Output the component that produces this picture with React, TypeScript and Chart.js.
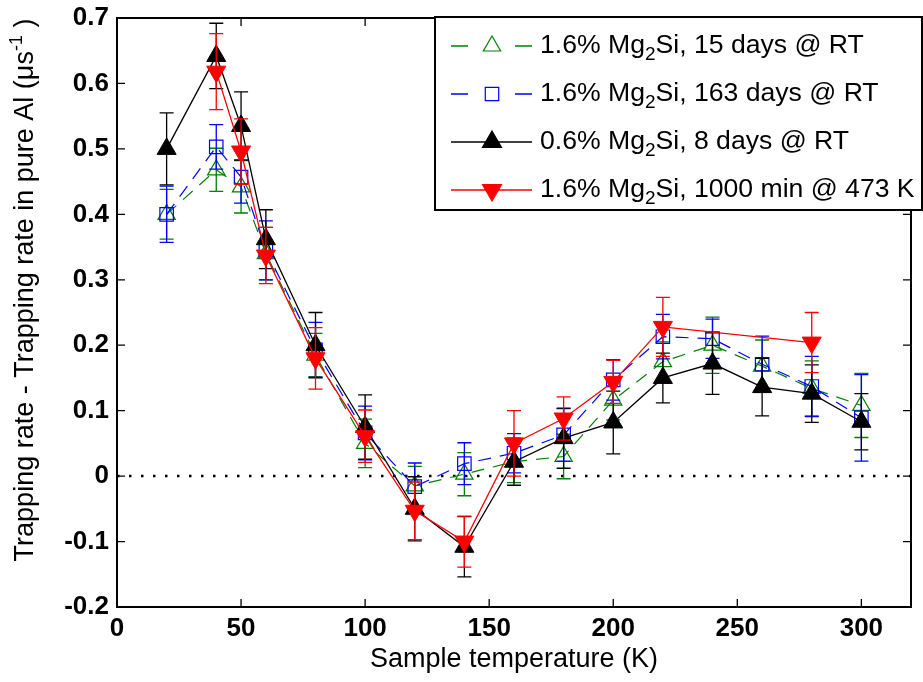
import React, { useEffect, useRef } from 'react';
import { Chart, registerables } from 'chart.js';

Chart.register(...registerables);

// ---------- data ----------
const temps = [20, 40, 50, 60, 80, 100, 120, 140, 160, 180, 200, 220, 240, 260, 280, 300];

const green15Days = [0.400, 0.468, 0.442, 0.340, 0.185, 0.050, -0.015, 0.003, 0.022, 0.030, 0.116, 0.175, 0.200, 0.168, 0.134, 0.108];
const green15Err = [0.038, 0.033, 0.040, 0.040, 0.033, 0.037, 0.030, 0.033, 0.032, 0.034, 0.030, 0.030, 0.043, 0.040, 0.042, 0.049];

const blue163Days = [0.400, 0.503, 0.457, 0.345, 0.193, 0.066, -0.016, 0.019, 0.035, 0.063, 0.147, 0.213, 0.210, 0.171, 0.137, 0.089];
const blue163Err = [0.043, 0.034, 0.040, 0.045, 0.042, 0.041, 0.036, 0.032, 0.030, 0.040, 0.031, 0.034, 0.030, 0.043, 0.046, 0.066];

const black8Days = [0.500, 0.642, 0.535, 0.362, 0.200, 0.075, -0.050, -0.108, 0.022, 0.058, 0.082, 0.150, 0.172, 0.136, 0.126, 0.083];
const black8Err = [0.055, 0.050, 0.052, 0.045, 0.050, 0.049, 0.049, 0.046, 0.036, 0.046, 0.048, 0.038, 0.047, 0.044, 0.044, 0.043];

const tempsRed = [40, 50, 60, 80, 100, 120, 140, 160, 180, 200, 220, 280];
const red1000Min = [0.618, 0.496, 0.337, 0.180, 0.061, -0.053, -0.100, 0.050, 0.088, 0.144, 0.228, 0.204];
const red1000Err = [0.058, 0.050, 0.043, 0.047, 0.040, 0.044, 0.039, 0.050, 0.033, 0.033, 0.045, 0.046];

const seriesNames = [
  '1.6% Mg₂Si, 15 days @ RT',
  '1.6% Mg₂Si, 163 days @ RT',
  '0.6% Mg₂Si, 8 days @ RT',
  '1.6% Mg₂Si, 1000 min @ 473 K',
];

const xTicks = [0, 50, 100, 150, 200, 250, 300];
const yTicks = [-0.2, -0.1, 0, 0.1, 0.2, 0.3, 0.4, 0.5, 0.6, 0.7];

const xTitle = 'Sample temperature (K)';
const yTitleMain = 'Trapping rate - Trapping rate in pure Al (μs';
const yTitleSup = '-1';
const yTitleEnd = ' )';

// ---------- styles ----------
const FONT = '"Liberation Sans", Arial, Helvetica, sans-serif';
const GREEN = '#008000';
const BLUE = '#0000ff';
const BLACK = '#000000';
const RED = '#ff0000';

function toPoints(xs: number[], ys: number[]) {
  return xs.map((x, i) => ({ x, y: ys[i] }));
}

function drawMarker(ctx: CanvasRenderingContext2D, style: string, x: number, y: number, r: number, color: string, filled: boolean) {
  ctx.save();
  ctx.setLineDash([]);
  ctx.lineWidth = 1.2;
  ctx.strokeStyle = color;
  ctx.fillStyle = color;
  ctx.beginPath();
  if (style === 'rect') {
    const s = r * Math.SQRT1_2;
    ctx.rect(x - s, y - s, 2 * s, 2 * s);
  } else {
    const rot = style === 'down' ? Math.PI : 0;
    let a = rot;
    ctx.moveTo(x + Math.sin(a) * r, y - Math.cos(a) * r);
    a += (2 * Math.PI) / 3;
    ctx.lineTo(x + Math.sin(a) * r, y - Math.cos(a) * r);
    a += (2 * Math.PI) / 3;
    ctx.lineTo(x + Math.sin(a) * r, y - Math.cos(a) * r);
    ctx.closePath();
  }
  if (filled) ctx.fill();
  ctx.stroke();
  ctx.restore();
}

const errorBarPlugin = {
  id: 'errorBars',
  afterDatasetDraw(chart: any, args: any) {
    const ds = chart.data.datasets[args.index];
    const errs: number[] = ds.errors;
    if (!errs) return;
    const ctx: CanvasRenderingContext2D = chart.ctx;
    const ys = chart.scales.y;
    ctx.save();
    ctx.setLineDash([]);
    ctx.strokeStyle = ds.borderColor;
    ctx.lineWidth = 1.3;
    args.meta.data.forEach((pt: any, i: number) => {
      const v = ds.data[i].y;
      const e = errs[i];
      const top = ys.getPixelForValue(v + e);
      const bot = ys.getPixelForValue(v - e);
      const x = pt.x;
      const hw = 7;
      ctx.beginPath();
      ctx.moveTo(x, top);
      ctx.lineTo(x, bot);
      ctx.moveTo(x - hw, top);
      ctx.lineTo(x + hw, top);
      ctx.moveTo(x - hw, bot);
      ctx.lineTo(x + hw, bot);
      ctx.stroke();
    });
    ctx.restore();
  },
};

const zeroLinePlugin = {
  id: 'zeroLine',
  beforeDatasetsDraw(chart: any) {
    const ctx: CanvasRenderingContext2D = chart.ctx;
    const { left, right } = chart.chartArea;
    const y = chart.scales.y.getPixelForValue(0);
    ctx.save();
    ctx.strokeStyle = '#000';
    ctx.lineWidth = 2.5;
    ctx.setLineDash([2.5, 9.5]);
    ctx.beginPath();
    ctx.moveTo(left, y);
    ctx.lineTo(right, y);
    ctx.stroke();
    ctx.restore();
  },
};

const framePlugin = {
  id: 'frame',
  afterDraw(chart: any) {
    const ctx: CanvasRenderingContext2D = chart.ctx;
    const { left, right, top, bottom } = chart.chartArea;
    const xs = chart.scales.x;
    const ys = chart.scales.y;
    ctx.save();
    ctx.setLineDash([]);
    ctx.strokeStyle = '#000';
    // inward ticks
    ctx.lineWidth = 1.3;
    const tl = 8;
    ctx.beginPath();
    xTicks.forEach((t) => {
      const px = xs.getPixelForValue(t);
      ctx.moveTo(px, bottom);
      ctx.lineTo(px, bottom - tl);
      ctx.moveTo(px, top);
      ctx.lineTo(px, top + tl);
    });
    yTicks.forEach((t) => {
      const py = ys.getPixelForValue(t);
      ctx.moveTo(left, py);
      ctx.lineTo(left + tl, py);
      ctx.moveTo(right, py);
      ctx.lineTo(right - tl, py);
    });
    ctx.stroke();
    // frame
    ctx.lineWidth = 2;
    ctx.strokeRect(left, top, right - left, bottom - top);

    // y-axis title with superscript
    ctx.fillStyle = '#000';
    ctx.translate(26, 290);
    ctx.rotate(-Math.PI / 2);
    ctx.textBaseline = 'middle';
    ctx.textAlign = 'left';
    const mainFont = `27px ${FONT}`;
    const supFont = `18px ${FONT}`;
    ctx.font = mainFont;
    const w1 = ctx.measureText(yTitleMain).width;
    const w3 = ctx.measureText(yTitleEnd).width;
    ctx.font = supFont;
    const w2 = ctx.measureText(yTitleSup).width;
    let x0 = -(w1 + w2 + w3) / 2;
    ctx.font = mainFont;
    ctx.fillText(yTitleMain, x0, 0);
    x0 += w1;
    ctx.font = supFont;
    ctx.fillText(yTitleSup, x0, -9);
    x0 += w2;
    ctx.font = mainFont;
    ctx.fillText(yTitleEnd, x0, 0);
    ctx.restore();

    // legend
    ctx.save();
    const lx0 = 435, ly0 = 17, lx1 = 922, ly1 = 210;
    ctx.fillStyle = '#fff';
    ctx.fillRect(lx0, ly0, lx1 - lx0, ly1 - ly0);
    ctx.strokeStyle = '#000';
    ctx.lineWidth = 2;
    ctx.strokeRect(lx0, ly0, lx1 - lx0, ly1 - ly0);
    const rowsY = [46, 94, 142, 190];
    chart.data.datasets.forEach((ds: any, i: number) => {
      const y = rowsY[i];
      ctx.strokeStyle = ds.borderColor;
      ctx.lineWidth = 1.3;
      ctx.setLineDash([]);
      ctx.beginPath();
      if (ds.borderDash && ds.borderDash.length) {
        ctx.moveTo(451, y); ctx.lineTo(468, y);
        ctx.moveTo(515, y); ctx.lineTo(532, y);
      } else {
        ctx.moveTo(451, y); ctx.lineTo(532, y);
      }
      ctx.stroke();
      drawMarker(ctx, ds.legendMarker, 492, y, ds.pointRadius, ds.borderColor, ds.legendFilled);
      // text with subscript
      const name: string = ds.label;
      const parts = name.split('₂');
      ctx.fillStyle = '#000';
      ctx.textBaseline = 'middle';
      ctx.textAlign = 'left';
      let tx = 540;
      ctx.font = `26.6px ${FONT}`;
      ctx.fillText(parts[0], tx, y);
      tx += ctx.measureText(parts[0]).width;
      ctx.font = `19px ${FONT}`;
      ctx.fillText('2', tx, y + 9);
      tx += ctx.measureText('2').width;
      ctx.font = `26.6px ${FONT}`;
      ctx.fillText(parts[1], tx, y);
    });
    ctx.restore();
  },
};

export default function App() {
  const canvasRef = useRef<HTMLCanvasElement | null>(null);

  useEffect(() => {
    if (!canvasRef.current) return;
    Chart.defaults.font.family = FONT;
    Chart.defaults.color = '#000';
    const chart = new Chart(canvasRef.current, {
      type: 'line',
      data: {
        datasets: [
          {
            label: seriesNames[0],
            data: toPoints(temps, green15Days),
            errors: green15Err,
            borderColor: GREEN,
            backgroundColor: 'rgba(0,0,0,0)',
            borderWidth: 1.2,
            borderDash: [13, 9],
            pointStyle: 'triangle',
            pointRadius: 10,
            pointBorderWidth: 1.2,
            pointBackgroundColor: 'rgba(0,0,0,0)',
            pointBorderColor: GREEN,
            legendMarker: 'up',
            legendFilled: false,
            order: 4,
          } as any,
          {
            label: seriesNames[1],
            data: toPoints(temps, blue163Days),
            errors: blue163Err,
            borderColor: BLUE,
            backgroundColor: 'rgba(0,0,0,0)',
            borderWidth: 1.2,
            borderDash: [13, 9],
            pointStyle: 'rect',
            pointRadius: 9.5,
            pointBorderWidth: 1.2,
            pointBackgroundColor: 'rgba(0,0,0,0)',
            pointBorderColor: BLUE,
            legendMarker: 'rect',
            legendFilled: false,
            order: 3,
          } as any,
          {
            label: seriesNames[2],
            data: toPoints(temps, black8Days),
            errors: black8Err,
            borderColor: BLACK,
            backgroundColor: BLACK,
            borderWidth: 1.3,
            pointStyle: 'triangle',
            pointRadius: 11,
            pointBorderWidth: 1,
            pointBackgroundColor: BLACK,
            pointBorderColor: BLACK,
            legendMarker: 'up',
            legendFilled: true,
            order: 2,
          } as any,
          {
            label: seriesNames[3],
            data: toPoints(tempsRed, red1000Min),
            errors: red1000Err,
            borderColor: RED,
            backgroundColor: RED,
            borderWidth: 1.3,
            pointStyle: 'triangle',
            pointRotation: 180,
            pointRadius: 11,
            pointBorderWidth: 1,
            pointBackgroundColor: RED,
            pointBorderColor: RED,
            legendMarker: 'down',
            legendFilled: true,
            order: 1,
          } as any,
        ],
      },
      options: {
        animation: false,
        responsive: false,
        maintainAspectRatio: false,
        layout: { padding: { top: 18, right: 2, left: 0, bottom: 0 } },
        plugins: {
          legend: { display: false },
          tooltip: { enabled: false },
        },
        elements: { line: { tension: 0, fill: false } },
        scales: {
          x: {
            type: 'linear',
            min: 0,
            max: 320,
            grid: { display: false, drawTicks: false },
            border: { display: false },
            ticks: {
              stepSize: 50,
              includeBounds: false,
              autoSkip: false,
              maxRotation: 0,
              padding: 6,
              color: '#000',
              font: { size: 26, weight: 'bold', family: FONT },
              callback: (v: any) => String(Math.round(Number(v))),
            },
            title: {
              display: true,
              text: xTitle,
              color: '#000',
              font: { size: 27, family: FONT },
              padding: { top: 0, bottom: 6 },
            },
            afterFit: (scale: any) => {
              scale.height = 75;
              scale.paddingLeft = 0;
              scale.paddingRight = 0;
            },
          },
          y: {
            type: 'linear',
            min: -0.2,
            max: 0.7,
            grid: { display: false, drawTicks: false },
            border: { display: false },
            ticks: {
              stepSize: 0.1,
              autoSkip: false,
              padding: 8,
              color: '#000',
              font: { size: 26, weight: 'bold', family: FONT },
              callback: (v: any) => String(Math.round(Number(v) * 10) / 10),
            },
            afterFit: (scale: any) => {
              scale.width = 117;
              scale.paddingTop = 0;
              scale.paddingBottom = 0;
            },
          },
        },
      } as any,
      plugins: [zeroLinePlugin, errorBarPlugin, framePlugin],
    });
    return () => chart.destroy();
  }, []);

  return (
    <div style={{ position: 'absolute', left: 0, top: 0, width: 923, height: 682, background: '#fff' }}>
      <canvas ref={canvasRef} width={923} height={682} style={{ width: 923, height: 682, display: 'block' }} />
    </div>
  );
}
